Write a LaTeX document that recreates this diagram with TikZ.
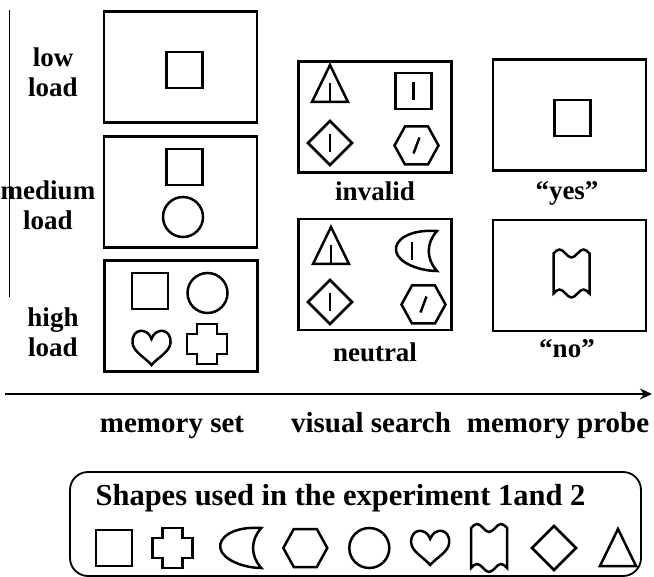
\documentclass[tikz,border=0pt]{standalone}
\usepackage{fontspec}
\setmainfont{Liberation Serif}
\usetikzlibrary{arrows.meta}
\tikzset{
  frame/.style={draw, line width=2.8pt, minimum width=153pt, minimum height=111pt, inner sep=0pt},
  shp/.style={line width=2.5pt, line join=miter},
  lbl/.style={font=\fontsize{27}{30}\selectfont\bfseries, align=center, inner sep=0pt},
  biglbl/.style={font=\fontsize{29}{32}\selectfont\bfseries, inner sep=0pt, anchor=base},
  pics/sqr/.style={code={\draw[shp] (-18,-18) rectangle (18,18);}},
  pics/circ/.style={code={\draw[shp] (0,0) circle (20);}},
  pics/tri/.style={code={\draw[shp] (0,-19) -- (18,18) -- (-18,18) -- cycle;}},
  pics/dia/.style={code={\draw[shp] (0,-22) -- (22,0) -- (0,22) -- (-22,0) -- cycle;}},
  pics/hexa/.style={code={\draw[shp] (-22,0) -- (-11.5,-19) -- (11.5,-19) -- (22,0) -- (11.5,19) -- (-11.5,19) -- cycle;}},
  pics/crs/.style={code={\draw[shp] (-10,-20) -- (10,-20) -- (10,-10) -- (20,-10) -- (20,10) -- (10,10) -- (10,20) -- (-10,20) -- (-10,10) -- (-20,10) -- (-20,-10) -- (-10,-10) -- cycle;}},
  pics/heart/.style={code={\draw[shp] (0,-9) .. controls (4,-21) and (20,-20) .. (19,-5) .. controls (18,4) and (7,9) .. (0,17) .. controls (-7,9) and (-18,4) .. (-19,-5) .. controls (-20,-20) and (-4,-21) .. cycle;}},
  pics/moon/.style={code={\draw[shp] (21,-20) .. controls (-8,-22) and (-22,-10) .. (-20,0) .. controls (-18,12) and (4,20) .. (21,20) .. controls (10,8) and (10,-8) .. cycle;}},
  pics/wavy/.style={code={\draw[shp] (-18,-20) sin (-12,-24) cos (-6,-20) sin (0,-16) cos (6,-20) sin (12,-24) cos (18,-20)
      -- (18,20) sin (12,16) cos (6,20) sin (0,24) cos (-6,20) sin (-12,16) cos (-18,20) -- cycle;}},
  pics/bar/.style={code={\draw[shp] (0,-9) -- (0,9);}},
  pics/slash/.style={code={\draw[shp] (-3,8) -- (3,-8);}}
}
\begin{document}
\begin{tikzpicture}[x=1pt,y=-1pt]
  \useasboundingbox (0,0) rectangle (654,577);
  % thin rule on the left
  \draw[line width=0.8pt] (9,10) -- (9,297);

  % memory set frames
  \node[frame] (low)  at (180.5,67)  {};
  \node[frame] (med)  at (180.5,192) {};
  \node[frame] (high) at (181,316)   {};
  \node[lbl] (lowlbl)  at (53,72)  {low\\load};
  \node[lbl] (medlbl)  at (48,205) {medium\\load};
  \node[lbl] (highlbl) at (53,332) {high\\load};
  \pic at (184.5,70) {sqr};
  \pic at (184.5,167) {sqr};
  \pic at (183,217) {circ};
  \pic at (150,291) {sqr};
  \pic at (207.5,293) {circ};
  \pic at (151.5,348) {heart};
  \pic at (207,344) {crs};

  % visual search frames
  \node[frame] (inval) at (375,117)   {};
  \node[frame] (neutr) at (375,274.5) {};
  \node[lbl, anchor=base] (invallbl) at (375,201) {invalid};
  \node[lbl, anchor=base] (neutrlbl) at (375,362) {neutral};
  \pic at (330,84) {tri};     \pic at (330,92) {bar};
  \pic at (413.5,91) {sqr};   \pic at (413.5,91) {bar};
  \pic at (330,143) {dia};    \pic at (330,143) {bar};
  \pic at (416.5,145.5) {hexa}; \pic at (416.5,145.5) {slash};
  \pic at (331,246) {tri};    \pic at (331,254) {bar};
  \pic at (416,251) {moon};   \pic at (412,251) {bar};
  \pic at (330,302) {dia};    \pic at (330,302) {bar};
  \pic at (423.5,304.5) {hexa}; \pic at (423.5,304.5) {slash};

  % memory probe frames
  \node[frame] (yes) at (569.5,115)   {};
  \node[frame] (no)  at (569.5,275.5) {};
  \node[lbl, anchor=base] (yeslbl) at (567,200) {“yes”};
  \node[lbl, anchor=base] (nolbl)  at (567,358) {“no”};
  \pic at (572.5,118) {sqr};
  \pic at (571.5,273.5) {wavy};

  % time axis
  \coordinate (tstart) at (5,394);
  \coordinate (tend) at (652,394);
  \draw[line width=2.4pt, -{Stealth[length=12pt,width=11pt]}] (tstart) -- (tend);
  \node[biglbl] (setlbl)    at (172,433) {memory set};
  \node[biglbl] (searchlbl) at (371,433) {visual search};
  \node[biglbl] (probelbl)  at (558,433) {memory probe};

  % legend of shapes
  \node[draw, line width=1.8pt, rounded corners=18pt, minimum width=571pt, minimum height=104pt, inner sep=0pt] (legend) at (355.5,524) {};
  \node[biglbl, font=\fontsize{30.5}{33}\selectfont\bfseries] (legtitle) at (340.5,506) {Shapes used in the experiment 1and 2};
  \foreach \s/\px in {sqr/114,crs/172.3,moon/240.3,hexa/305.3,circ/369.3,heart/430.2,wavy/489.1,dia/554,tri/618}
    \pic at (\px,548) {\s};
\end{tikzpicture}
\end{document}
